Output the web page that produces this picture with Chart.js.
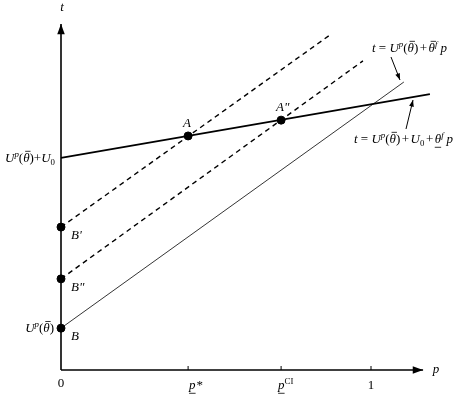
<!DOCTYPE html>
<html>
<head>
<meta charset="utf-8">
<script src="https://cdn.jsdelivr.net/npm/chart.js@4/dist/chart.umd.min.js"></script>
<style>body{margin:0;background:#fff}</style>
</head>
<body>
<div style="width:466px;height:398px"><canvas id="myChart"></canvas></div>
<script>
// ticks on the p axis
const pTicks = [0, 0.41, 0.71, 1];
const pTickNames = ['0', 'p*', 'pCI', '1'];

// t = U(θ) + U0 + θ_f p   (thick solid)
const lineUp = [{x: 0, y: 0.684}, {x: 1.19, y: 0.890}];
// dashed line through B' and A
const lineB1 = [{x: 0, y: 0.461}, {x: 0.868, y: 1.081}];
// dashed line through B'' and A''
const lineB2 = [{x: 0, y: 0.294}, {x: 0.974, y: 0.997}];
// t = U(θ) + θ^f p   (thin solid)
const lineB = [{x: 0, y: 0.135}, {x: 1.106, y: 0.929}];

// marked points
const pointNames = ['A', 'A"', "B'", 'B"', 'B'];
const pointP = [0.41, 0.71, 0, 0, 0];
const pointT = [0.755, 0.806, 0.461, 0.294, 0.135];

const pMax = 1.25, tMax = 1.15;
const pArrow = 1.168, tArrow = 1.116;

const SERIF = '"Liberation Serif", "DejaVu Serif", serif';

// draws text made of pieces (italic, sup, sub, bar over, bar under)
function richText(ctx, parts, x, y, align, size) {
    size = size || 13;
    function fontOf(p) {
        let s = (p.sup || p.sub) ? size * 0.68 : size;
        return (p.i ? 'italic ' : '') + s + 'px ' + SERIF;
    }
    let w = 0;
    parts.forEach(p => { ctx.font = fontOf(p); w += ctx.measureText(p.t).width + (p.gap || 0) + (p.pre || 0); });
    let cx = align === 'right' ? x - w : align === 'center' ? x - w / 2 : x;
    ctx.textBaseline = 'alphabetic';
    ctx.textAlign = 'left';
    parts.forEach(p => {
        ctx.font = fontOf(p);
        cx += p.pre || 0;
        let dy = p.sup ? -size * 0.42 : p.sub ? size * 0.22 : 0;
        let pw = ctx.measureText(p.t).width;
        ctx.fillText(p.t, cx, y + dy);
        ctx.lineWidth = 0.8;
        if (p.bar) {
            ctx.beginPath(); ctx.moveTo(cx + 2, y - size * 0.82); ctx.lineTo(cx + pw + 1, y - size * 0.82); ctx.stroke();
        }
        if (p.under) {
            ctx.beginPath(); ctx.moveTo(cx, y + size * 0.33); ctx.lineTo(cx + pw, y + size * 0.33); ctx.stroke();
        }
        cx += pw + (p.gap || 0);
    });
}

function arrow(ctx, x1, y1, x2, y2, head) {
    ctx.beginPath(); ctx.moveTo(x1, y1); ctx.lineTo(x2, y2); ctx.stroke();
    let a = Math.atan2(y2 - y1, x2 - x1);
    ctx.beginPath();
    ctx.moveTo(x2, y2);
    ctx.lineTo(x2 - head * Math.cos(a - 0.35), y2 - head * Math.sin(a - 0.35));
    ctx.lineTo(x2 - head * Math.cos(a + 0.35), y2 - head * Math.sin(a + 0.35));
    ctx.closePath(); ctx.fill();
}

const U = {t: 'U', i: true}, sp = {t: 'p', i: true, sup: true};
const thBar = {t: 'θ', i: true, bar: true};
const plus = {t: '+', pre: 1.5, gap: 1.5};

const drawing = {
    id: 'drawing',
    beforeDatasetsDraw(chart) {
        const ctx = chart.ctx, xs = chart.scales.x, ys = chart.scales.y;
        const x0 = xs.getPixelForValue(0), y0 = ys.getPixelForValue(0);
        ctx.save();
        ctx.strokeStyle = '#000'; ctx.fillStyle = '#000';
        ctx.lineWidth = 1.6;
        arrow(ctx, x0, y0, x0, ys.getPixelForValue(tArrow), 11);
        arrow(ctx, x0, y0, xs.getPixelForValue(pArrow), y0, 11);
        ctx.lineWidth = 1;
        pTicks.forEach(v => {
            if (v === 0) return;
            let px = xs.getPixelForValue(v);
            ctx.beginPath(); ctx.moveTo(px, y0); ctx.lineTo(px, y0 - 4); ctx.stroke();
        });
        ctx.restore();
    },
    afterDatasetsDraw(chart) {
        const ctx = chart.ctx, xs = chart.scales.x, ys = chart.scales.y;
        const X = v => xs.getPixelForValue(v), Y = v => ys.getPixelForValue(v);
        ctx.save();
        ctx.fillStyle = '#000'; ctx.strokeStyle = '#000';
        // axis names
        richText(ctx, [{t: 't', i: true}], X(0) + 1, 11, 'center');
        richText(ctx, [{t: 'p', i: true}], X(pArrow) + 13, Y(0) + 3, 'center');
        // tick labels
        const y0 = Y(0);
        richText(ctx, [{t: pTickNames[0]}], X(pTicks[0]), y0 + 17, 'center');
        richText(ctx, [{t: 'p', i: true, under: true}, {t: '*', pre: 1}], X(pTicks[1]) + 1, y0 + 19, 'left');
        richText(ctx, [{t: 'p', i: true, under: true}, {t: 'CI', sup: true}], X(pTicks[2]) - 3, y0 + 19, 'left');
        richText(ctx, [{t: pTickNames[3]}], X(pTicks[3]), y0 + 19, 'center');
        // labels on the t axis
        richText(ctx, [U, sp, {t: '('}, thBar, {t: ')+'}, U, {t: '0', sub: true}], X(0) - 6, Y(lineUp[0].y) + 4, 'right');
        richText(ctx, [U, sp, {t: '('}, thBar, {t: ')'}], X(0) - 7, Y(lineB[0].y) + 4, 'right');
        // point names
        const off = [[-5, -9], [-5, -9], [10, 12], [10, 12], [10, 12]];
        pointNames.forEach((n, k) => {
            richText(ctx, [{t: n, i: true}], X(pointP[k]) + off[k][0], Y(pointT[k]) + off[k][1], 'left');
        });
        // equation call-outs
        richText(ctx, [{t: 't', i: true}, {t: ' = '}, U, sp, {t: '('}, thBar, {t: ')'}, plus, thBar, {t: 'f', i: true, sup: true, gap: 3}, {t: 'p', i: true}], 372, 52, 'left');
        richText(ctx, [{t: 't', i: true}, {t: ' = '}, U, sp, {t: '('}, thBar, {t: ')'}, plus, U, {t: '0', sub: true}, plus, {t: 'θ', i: true, under: true}, {t: 'f', i: true, sup: true, gap: 3}, {t: 'p', i: true}], 354, 143, 'left');
        ctx.lineWidth = 1;
        arrow(ctx, 391, 57, 400, 80, 7);
        arrow(ctx, 406, 129, 413, 100, 7);
        ctx.restore();
    }
};

const ctx = document.getElementById('myChart').getContext('2d');
const myChart = new Chart(ctx, {
    type: 'scatter',
    data: {
        datasets: [
            {data: lineUp, showLine: true, borderColor: '#000', borderWidth: 1.8, pointRadius: 0},
            {data: lineB1, showLine: true, borderColor: '#000', borderWidth: 1.4, borderDash: [5, 4], pointRadius: 0},
            {data: lineB2, showLine: true, borderColor: '#000', borderWidth: 1.4, borderDash: [5, 4], pointRadius: 0},
            {data: lineB, showLine: true, borderColor: '#000', borderWidth: 0.8, pointRadius: 0},
            {data: pointP.map((p, k) => ({x: p, y: pointT[k]})), showLine: false,
             pointRadius: 4, backgroundColor: '#000', borderColor: '#000'}
        ]
    },
    options: {
        responsive: true,
        maintainAspectRatio: false,
        animation: false,
        clip: false,
        layout: {padding: {left: 61, right: 466 - 61 - pMax * 310, top: 370 - tMax * 310, bottom: 28}},
        plugins: {legend: {display: false}, tooltip: {enabled: false}},
        scales: {
            x: {type: 'linear', min: 0, max: pMax, display: false},
            y: {type: 'linear', min: 0, max: tMax, display: false}
        }
    },
    plugins: [drawing]
});
</script>
</body>
</html>
